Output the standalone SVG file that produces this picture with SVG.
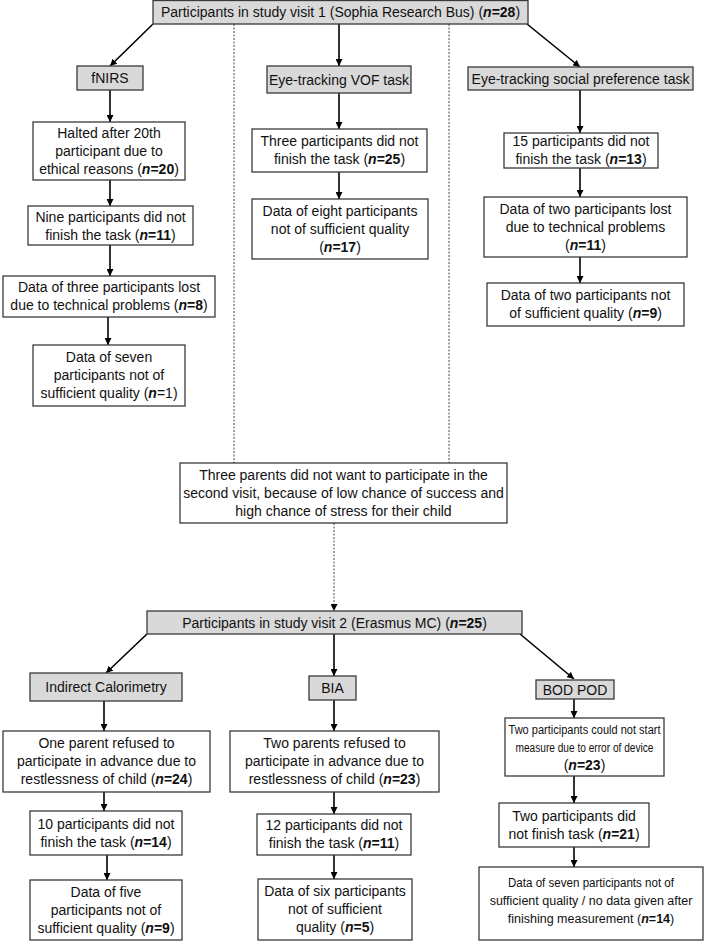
<svg xmlns="http://www.w3.org/2000/svg" width="708" height="943" viewBox="0 0 708 943">
<defs>
<marker id="ah" viewBox="0 0 10 10" refX="10" refY="5" markerWidth="7" markerHeight="7" markerUnits="userSpaceOnUse" orient="auto"><path d="M0,0 L10,5 L0,10 z" fill="#000"/></marker>
<style>
.b{fill:#fff;stroke:#3a3a3a;stroke-width:1.3}
.g{fill:#d9d9d9;stroke:#3a3a3a;stroke-width:1.3}
text{font-family:"Liberation Sans",Arial,sans-serif;font-size:14px;fill:#111;text-anchor:middle}
.s{font-size:12.5px}
.n{font-weight:bold}
.i{font-style:italic;font-weight:bold}
.c{stroke:#000;stroke-width:1.6;fill:none;marker-end:url(#ah)}
.d{stroke:#444;stroke-width:1;stroke-dasharray:2,1.5;fill:none}
.dd{stroke:#444;stroke-width:1;stroke-dasharray:2,1.5;fill:none;marker-end:url(#ah)}
</style>
</defs>
<rect width="708" height="943" fill="#fff"/>
<g id="connectors">
<line class="d" x1="234" y1="24" x2="234" y2="463"/>
<line class="d" x1="449" y1="24" x2="449" y2="463"/>
<line class="dd" x1="334" y1="523" x2="334" y2="611"/>
<line class="c" x1="153" y1="24" x2="110" y2="66"/>
<line class="c" x1="339" y1="24" x2="339" y2="66"/>
<line class="c" x1="527" y1="24" x2="580" y2="67"/>
<line class="c" x1="110" y1="90" x2="110" y2="122"/>
<line class="c" x1="110" y1="180" x2="110" y2="206"/>
<line class="c" x1="110" y1="245" x2="110" y2="276"/>
<line class="c" x1="108" y1="317" x2="108" y2="345"/>
<line class="c" x1="339" y1="93" x2="339" y2="129"/>
<line class="c" x1="339" y1="172" x2="339" y2="199"/>
<line class="c" x1="580" y1="90" x2="580" y2="133"/>
<line class="c" x1="580" y1="168" x2="580" y2="197"/>
<line class="c" x1="580" y1="257" x2="580" y2="283"/>
<line class="c" x1="147" y1="634" x2="106" y2="673"/>
<line class="c" x1="334" y1="634" x2="334" y2="676"/>
<line class="c" x1="520" y1="634" x2="574" y2="679"/>
<line class="c" x1="104" y1="701" x2="104" y2="731"/>
<line class="c" x1="104" y1="792" x2="104" y2="811"/>
<line class="c" x1="107" y1="855" x2="107" y2="880"/>
<line class="c" x1="334" y1="700" x2="334" y2="731"/>
<line class="c" x1="334" y1="792" x2="334" y2="814"/>
<line class="c" x1="334" y1="855" x2="334" y2="879"/>
<line class="c" x1="574" y1="699" x2="574" y2="718"/>
<line class="c" x1="574" y1="776" x2="574" y2="803"/>
<line class="c" x1="574" y1="847" x2="574" y2="867"/>
</g>
<g id="visit1">
<rect class="g" x="153" y="0.5" width="375" height="23.5"/>
<text x="340.5" y="17">Participants in study visit 1 (Sophia Research Bus) (<tspan class="i">n</tspan><tspan class="n">=28</tspan>)</text>
</g>
<g id="fnirs">
<rect class="g" x="77" y="66" width="66" height="24"/>
<text x="110" y="83">fNIRS</text>
</g>
<g id="vof">
<rect class="g" x="267" y="66" width="144" height="27"/>
<text x="339" y="84.5">Eye-tracking VOF task</text>
</g>
<g id="social">
<rect class="g" x="468" y="67" width="225" height="23"/>
<text x="580.5" y="83.5">Eye-tracking social preference task</text>
</g>
<g id="halted">
<rect class="b" x="33" y="122" width="152" height="58"/>
<text x="109" y="138">Halted after 20th</text>
<text x="109" y="156">participant due to</text>
<text x="109" y="174">ethical reasons (<tspan class="i">n</tspan><tspan class="n">=20</tspan>)</text>
</g>
<g id="nine">
<rect class="b" x="28" y="206" width="165" height="39"/>
<text x="110.5" y="221.5">Nine participants did not</text>
<text x="110.5" y="239.5">finish the task (<tspan class="i">n</tspan><tspan class="n">=11</tspan>)</text>
</g>
<g id="datathree">
<rect class="b" x="3" y="276" width="212" height="41"/>
<text x="109" y="292">Data of three participants lost</text>
<text x="109" y="310">due to technical problems (<tspan class="i">n</tspan><tspan class="n">=8</tspan>)</text>
</g>
<g id="dataseven">
<rect class="b" x="33" y="345" width="152" height="61"/>
<text x="109" y="362">Data of seven</text>
<text x="109" y="380">participants not of</text>
<text x="109" y="398">sufficient quality (<tspan class="i">n</tspan>=1)</text>
</g>
<g id="three">
<rect class="b" x="252" y="129" width="175" height="43"/>
<text x="339.5" y="146">Three participants did not</text>
<text x="339.5" y="164">finish the task (<tspan class="i">n</tspan><tspan class="n">=25</tspan>)</text>
</g>
<g id="dataeight">
<rect class="b" x="252" y="199" width="176" height="60"/>
<text x="340" y="216">Data of eight participants</text>
<text x="340" y="234">not of sufficient quality</text>
<text x="340" y="252">(<tspan class="i">n</tspan><tspan class="n">=17</tspan>)</text>
</g>
<g id="fifteen">
<rect class="b" x="504" y="133" width="154" height="35"/>
<text x="581" y="146">15 participants did not</text>
<text x="581" y="164">finish the task (<tspan class="i">n</tspan><tspan class="n">=13</tspan>)</text>
</g>
<g id="datatwolost">
<rect class="b" x="484" y="197" width="203" height="60"/>
<text x="585.5" y="214">Data of two participants lost</text>
<text x="585.5" y="232">due to technical problems</text>
<text x="585.5" y="250">(<tspan class="i">n</tspan><tspan class="n">=11</tspan>)</text>
</g>
<g id="datatwonot">
<rect class="b" x="487" y="283" width="197" height="43"/>
<text x="585.5" y="300">Data of two participants not</text>
<text x="585.5" y="318">of sufficient quality (<tspan class="i">n</tspan><tspan class="n">=9</tspan>)</text>
</g>
<g id="parents">
<rect class="b" x="180" y="463" width="327" height="60"/>
<text x="343.5" y="480">Three parents did not want to participate in the</text>
<text x="343.5" y="498">second visit, because of low chance of success and</text>
<text x="343.5" y="516">high chance of stress for their child</text>
</g>
<g id="visit2">
<rect class="g" x="147" y="611" width="375" height="23"/>
<text x="334.5" y="627.5">Participants in study visit 2 (Erasmus MC) (<tspan class="i">n</tspan><tspan class="n">=25</tspan>)</text>
</g>
<g id="ic">
<rect class="g" x="30" y="673" width="152" height="28"/>
<text x="106" y="692">Indirect Calorimetry</text>
</g>
<g id="bia">
<rect class="g" x="309" y="676" width="47" height="24"/>
<text x="332.5" y="693">BIA</text>
</g>
<g id="bodpod">
<rect class="g" x="536" y="680" width="78" height="19"/>
<text x="575" y="694.5">BOD POD</text>
</g>
<g id="oneparent">
<rect class="b" x="3" y="731" width="207" height="61"/>
<text x="106.5" y="748">One parent refused to</text>
<text x="106.5" y="766">participate in advance due to</text>
<text x="106.5" y="784">restlessness of child (<tspan class="i">n</tspan><tspan class="n">=24</tspan>)</text>
</g>
<g id="ten">
<rect class="b" x="30" y="811" width="152" height="44"/>
<text x="106" y="829">10 participants did not</text>
<text x="106" y="847">finish the task (<tspan class="i">n</tspan><tspan class="n">=14</tspan>)</text>
</g>
<g id="datafive">
<rect class="b" x="30" y="880" width="152" height="60"/>
<text x="106" y="897">Data of five</text>
<text x="106" y="915">participants not of</text>
<text x="106" y="933">sufficient quality (<tspan class="i">n</tspan><tspan class="n">=9</tspan>)</text>
</g>
<g id="twoparents">
<rect class="b" x="230" y="731" width="209" height="61"/>
<text x="334.5" y="748">Two parents refused to</text>
<text x="334.5" y="766">participate in advance due to</text>
<text x="334.5" y="784">restlessness of child (<tspan class="i">n</tspan><tspan class="n">=23</tspan>)</text>
</g>
<g id="twelve">
<rect class="b" x="257" y="814" width="154" height="41"/>
<text x="334" y="830">12 participants did not</text>
<text x="334" y="848">finish the task (<tspan class="i">n</tspan><tspan class="n">=11</tspan>)</text>
</g>
<g id="datasix">
<rect class="b" x="258" y="879" width="154" height="61"/>
<text x="335" y="896">Data of six participants</text>
<text x="335" y="914">not of sufficient</text>
<text x="335" y="932">quality (<tspan class="i">n</tspan><tspan class="n">=5</tspan>)</text>
</g>
<g id="twocould">
<rect class="b" x="505" y="718" width="159" height="58"/>
<text class="s" x="584.5" y="734" textLength="152" lengthAdjust="spacingAndGlyphs">Two participants could not start</text>
<text class="s" x="584.5" y="752" textLength="138" lengthAdjust="spacingAndGlyphs">measure due to error of device</text>
<text x="584.5" y="770">(<tspan class="i">n</tspan><tspan class="n">=23</tspan>)</text>
</g>
<g id="twodid">
<rect class="b" x="499" y="803" width="150" height="44"/>
<text x="574" y="821">Two participants did</text>
<text x="574" y="839">not finish task (<tspan class="i">n</tspan><tspan class="n">=21</tspan>)</text>
</g>
<g id="dataseven2">
<rect class="b" x="479" y="867" width="224" height="73"/>
<text class="s" x="591" y="887" textLength="166" lengthAdjust="spacingAndGlyphs">Data of seven participants not of</text>
<text class="s" x="591" y="905">sufficient quality / no data given after</text>
<text class="s" x="591" y="923">finishing measurement (<tspan class="i">n</tspan><tspan class="n">=14</tspan>)</text>
</g>
</svg>
